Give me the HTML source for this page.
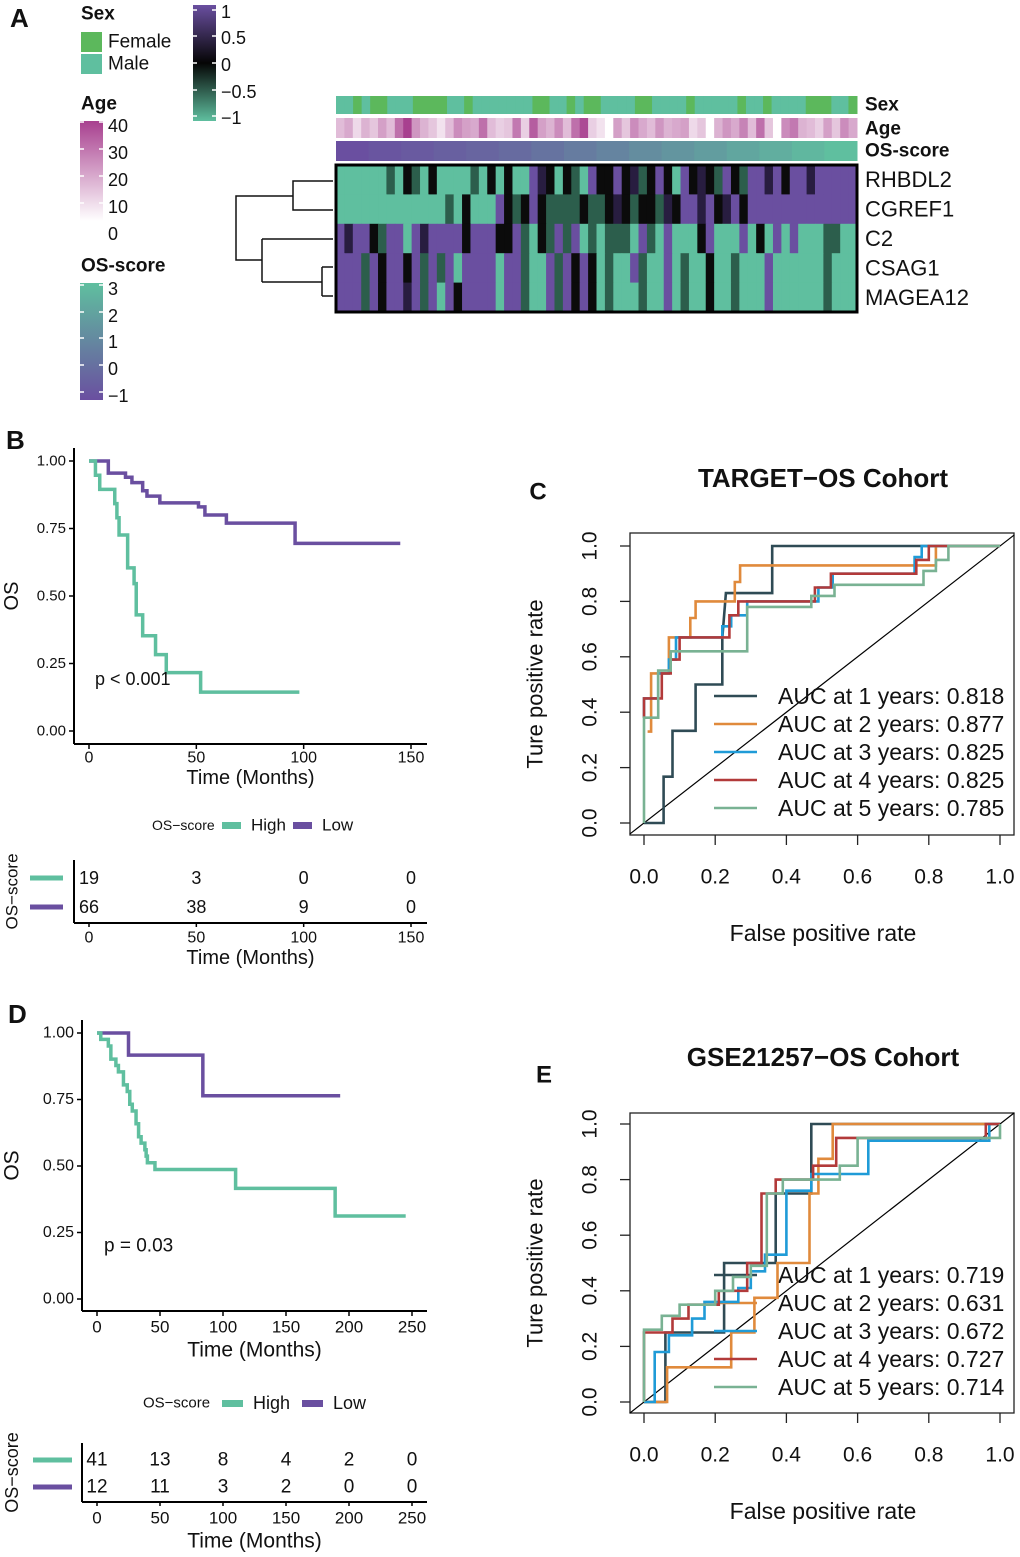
<!DOCTYPE html>
<html><head><meta charset="utf-8"><style>
html,body{margin:0;padding:0;background:#fff}
svg{display:block;font-family:"Liberation Sans",Arial,sans-serif}
</style></head><body>
<svg id="fig" width="1020" height="1557" viewBox="0 0 1020 1557" xmlns="http://www.w3.org/2000/svg">
<defs>
<linearGradient id="gHeat" x1="0" y1="1" x2="0" y2="0"><stop offset="0" stop-color="#5fbf9f"/><stop offset="0.5" stop-color="#050505"/><stop offset="1" stop-color="#6a4fa0"/></linearGradient>
<linearGradient id="gAge" x1="0" y1="1" x2="0" y2="0"><stop offset="0" stop-color="#ffffff"/><stop offset="1" stop-color="#a8408f"/></linearGradient>
<linearGradient id="gOS" x1="0" y1="1" x2="0" y2="0"><stop offset="0" stop-color="#6a4fa0"/><stop offset="1" stop-color="#5fbf9f"/></linearGradient>
</defs>
<g id="root"></g>
</svg>
<script>
// ---------- data ----------
const geneNames = ["RHBDL2","CGREF1","C2","CSAG1","MAGEA12"];
const heatRows = [
"ggggggdgkdgkggggdgkgkggPpkgkdgPkkPkpdkPkgPkpkdPkdPPpPkPPpPPPPP",
"gggggggggggggdgkgggPkdkPkddddkddkpkdkkdpkPPpPkpPkPPPPPPPPPPPPP",
"PpPPkdPPgPpPPPPkPPPkkPdgkdPdPgdgdddgPdgPgggkPgggPgkgPgPgggddgg",
"PPPdPkPPkPdPdPgPPPPgPPdggPdPkPkgdggPdggPgdggkggdgggPggggggdggg",
"PPPdPkPPpPdPgPkPPPPgPPdggPdPkPkgdgggdggPgdggkggdgggPggggggdggg"];
const sexCodes = "MMFMFFMMMFFFFMMFMMMMMMMFFMMFMFFMMMMFFMMMMFMMMMMFMMFMMMMFFFMMF";
const ageVals = [14,18,8,16,12,20,14,30,40,22,16,12,6,14,24,20,18,30,14,10,12,28,10,34,20,16,24,14,30,38,10,6,0,20,12,24,18,14,22,16,18,20,8,12,0,16,22,18,26,14,30,12,0,24,28,16,14,10,20,12,24,18];
const osScores = [-1,-0.8,-0.6,-0.4,-0.2,0,0.3,0.6,0.9,1.2,1.5,1.8,2.1,2.4,2.7,3];
const heatColor = {g:"#5fbf9f",d:"#2c5e4c",k:"#0b0b0b",p:"#281d40",P:"#6a4fa0"};

const kmB_timeHigh=[0,3,5,12,13,14,18,21,22,25,31,36,52];
const kmB_survHigh=[1,0.947,0.895,0.842,0.79,0.726,0.604,0.546,0.43,0.353,0.283,0.216,0.144];
const kmB_endHigh=98;
const kmB_timeLow=[0,9,17,20,25,27,33,51,54,64,96];
const kmB_survLow=[1,0.955,0.94,0.92,0.89,0.87,0.845,0.83,0.80,0.77,0.695];
const kmB_endLow=145;
const kmB_ticks=[0,50,100,150];
const kmB_riskHigh=[19,3,0,0];
const kmB_riskLow=[66,38,9,0];

const kmD_timeHigh=[0,3,9,11,15,17,21,24,26,28,31,33,35,38,39,40,46,110,189];
const kmD_survHigh=[1,0.976,0.951,0.902,0.878,0.854,0.805,0.78,0.732,0.707,0.659,0.61,0.586,0.561,0.537,0.512,0.487,0.416,0.312];
const kmD_endHigh=245;
const kmD_timeLow=[0,25,84];
const kmD_survLow=[1,0.917,0.764];
const kmD_endLow=193;
const kmD_ticks=[0,50,100,150,200,250];
const kmD_riskHigh=[41,13,8,4,2,0];
const kmD_riskLow=[12,11,3,2,0,0];

const yTicksKM=[0,0.25,0.5,0.75,1];
const rocTicks=[0,0.2,0.4,0.6,0.8,1];
const rocColors=["#2f4b55","#e08a3c","#1f9bd7","#b23a3a","#79b293"];
const rocC_labels=["AUC at 1 years: 0.818","AUC at 2 years: 0.877","AUC at 3 years: 0.825","AUC at 4 years: 0.825","AUC at 5 years: 0.785"];
const rocC_fpr=[
[0,0.055,0.055,0.08,0.08,0.145,0.145,0.22,0.22,0.23,0.23,0.36,0.36,1],
[0.01,0.02,0.02,0.07,0.07,0.13,0.13,0.145,0.145,0.255,0.255,0.27,0.27,0.82,0.82,1],
[0,0,0.04,0.04,0.07,0.07,0.09,0.09,0.22,0.22,0.245,0.245,0.29,0.29,0.49,0.49,0.53,0.53,0.76,0.76,0.78,0.78,1],
[0,0,0.05,0.05,0.075,0.075,0.1,0.1,0.24,0.24,0.265,0.265,0.48,0.48,0.525,0.525,0.765,0.765,0.8,0.8,1],
[0,0,0.04,0.04,0.075,0.075,0.29,0.29,0.47,0.47,0.535,0.535,0.785,0.785,0.82,0.82,0.855,0.855,1]];
const rocC_tpr=[
[0,0,0.167,0.167,0.333,0.333,0.5,0.5,0.667,0.83,0.83,0.83,1,1],
[0.33,0.33,0.54,0.54,0.67,0.67,0.74,0.74,0.8,0.8,0.87,0.87,0.93,0.93,1,1],
[0.38,0.45,0.45,0.54,0.54,0.59,0.59,0.67,0.67,0.71,0.71,0.75,0.75,0.8,0.8,0.85,0.85,0.9,0.9,0.96,0.96,1,1],
[0.38,0.45,0.45,0.54,0.54,0.59,0.59,0.67,0.67,0.75,0.75,0.8,0.8,0.85,0.85,0.9,0.9,0.95,0.95,1,1],
[0,0.38,0.38,0.55,0.55,0.62,0.62,0.78,0.78,0.82,0.82,0.86,0.86,0.91,0.91,0.95,0.95,1,1]];
const rocE_labels=["AUC at 1 years: 0.719","AUC at 2 years: 0.631","AUC at 3 years: 0.672","AUC at 4 years: 0.727","AUC at 5 years: 0.714"];
const rocE_fpr=[
[0,0.06,0.06,0.225,0.225,0.37,0.37,0.47,0.47,1],
[0,0.065,0.065,0.245,0.245,0.31,0.31,0.375,0.375,0.465,0.465,0.49,0.49,0.53,0.53,1],
[0,0.03,0.03,0.07,0.07,0.135,0.135,0.17,0.17,0.265,0.265,0.3,0.3,0.34,0.34,0.4,0.4,0.47,0.47,0.63,0.63,0.97,0.97,1],
[0,0,0.08,0.08,0.125,0.125,0.21,0.21,0.29,0.29,0.33,0.33,0.37,0.37,0.475,0.475,0.54,0.54,0.96,0.96,1],
[0,0,0.05,0.05,0.1,0.1,0.2,0.2,0.25,0.25,0.3,0.3,0.345,0.345,0.39,0.39,0.55,0.55,0.6,0.6,1,1]];
const rocE_tpr=[
[0,0,0.25,0.25,0.5,0.5,0.75,0.75,1,1],
[0,0,0.125,0.125,0.25,0.25,0.375,0.375,0.5,0.5,0.75,0.75,0.875,0.875,1,1],
[0,0,0.18,0.18,0.24,0.24,0.3,0.3,0.36,0.36,0.41,0.41,0.47,0.47,0.53,0.53,0.76,0.76,0.82,0.82,0.94,0.94,1,1],
[0,0.25,0.25,0.3,0.3,0.35,0.35,0.4,0.4,0.5,0.5,0.75,0.75,0.8,0.8,0.85,0.85,0.95,0.95,1,1],
[0,0.26,0.26,0.31,0.31,0.35,0.35,0.4,0.4,0.45,0.45,0.49,0.49,0.75,0.75,0.8,0.8,0.85,0.85,0.95,0.95,1]];

// ---------- helpers ----------
const NS="http://www.w3.org/2000/svg";
const root=document.getElementById('root');
function mk(tag,attrs,parent){const e=document.createElementNS(NS,tag);for(const k in attrs)e.setAttribute(k,attrs[k]);(parent||root).appendChild(e);return e;}
function txt(x,y,s,size,opts,parent){opts=opts||{};const e=mk('text',{x:x,y:y,'font-size':size,fill:opts.fill||'#111','text-anchor':opts.anchor||'start','dominant-baseline':'central','font-weight':opts.bold?'bold':'normal'},parent);if(opts.rot)e.setAttribute('transform','rotate(-90 '+x+' '+y+')');e.textContent=s;return e;}
function line(x1,y1,x2,y2,stroke,w,parent){return mk('line',{x1:x1,y1:y1,x2:x2,y2:y2,stroke:stroke,'stroke-width':w},parent);}

// ---------- Panel A ----------
let t;
t=txt(10,18,"A",26,{bold:true});


const legA=mk('g',{});


txt(81,14,"Sex",19,{bold:true},legA);
let sw=mk('rect',{x:81,y:32,width:21,height:20,fill:'#5cb85c'},legA);


sw=mk('rect',{x:81,y:54,width:21,height:20,fill:'#5fbf9f'},legA);


txt(108,42,"Female",19,{},legA);txt(108,64,"Male",19,{},legA);
txt(81,104,"Age",19,{bold:true},legA);
mk('rect',{x:80,y:121,width:23,height:100,fill:'url(#gAge)'},legA);
[["40",126],["30",153],["20",180],["10",207],["0",234]].forEach(a=>{txt(108,a[1],a[0],18,{},legA);if(a[0]!="0"){line(80,a[1]-4,84,a[1]-4,'#fff',1.5,legA);line(99,a[1]-4,103,a[1]-4,'#fff',1.5,legA);}});
txt(81,266,"OS-score",19,{bold:true},legA);
mk('rect',{x:80,y:283,width:23,height:117,fill:'url(#gOS)'},legA);
[["3",289],["2",316],["1",342],["0",369],["\u22121",396]].forEach(a=>{txt(108,a[1],a[0],18,{},legA);line(80,a[1]-4,84,a[1]-4,'#fff',1.5,legA);line(99,a[1]-4,103,a[1]-4,'#fff',1.5,legA);});
mk('rect',{x:193,y:5,width:23,height:116,fill:'url(#gHeat)'},legA);
[["1",12],["0.5",38],["0",65],["\u22120.5",92],["\u22121",118]].forEach(a=>{txt(221,a[1],a[0],18,{},legA);line(193,a[1]-2,197,a[1]-2,'#fff',1.5,legA);line(212,a[1]-2,216,a[1]-2,'#fff',1.5,legA);});

const hmX0=336,hmX1=857;
const annG=mk('g',{});


const nSex=sexCodes.length, wSex=(hmX1-hmX0)/nSex;
for(let i=0;i<nSex;i++){const r=mk('rect',{x:hmX0+i*wSex,y:96,width:wSex+0.5,height:18,fill:sexCodes[i]=='F'?'#5cb85c':'#5fbf9f'},annG);

}
const nAge=ageVals.length,wAge=(hmX1-hmX0)/nAge;
for(let i=0;i<nAge;i++){const f=ageVals[i]/40;const c='rgb('+Math.round(255-(255-168)*f)+','+Math.round(255-(255-64)*f)+','+Math.round(255-(255-143)*f)+')';
const r=mk('rect',{x:hmX0+i*wAge,y:118,width:wAge+0.5,height:20,fill:c},annG);

}
const nOS=osScores.length,wOS=(hmX1-hmX0)/nOS;
function lerp(a,b,f){return Math.round(a+(b-a)*f);}
for(let i=0;i<nOS;i++){const f=(osScores[i]+1)/4;const c='rgb('+lerp(106,95,f)+','+lerp(79,191,f)+','+lerp(160,159,f)+')';
const r=mk('rect',{x:hmX0+i*wOS,y:141,width:wOS+0.5,height:20,fill:c},annG);

}
txt(865,105,"Sex",19,{bold:true});txt(865,129,"Age",19,{bold:true});txt(865,151,"OS-score",19,{bold:true});

const hmG=mk('g',{});


const hmY0=165,rowH=29.4;
heatRows.forEach((row,ri)=>{const w=(hmX1-hmX0)/row.length;for(let i=0;i<row.length;i++){const r=mk('rect',{x:hmX0+i*w,y:hmY0+ri*rowH,width:w+0.5,height:rowH+0.5,fill:heatColor[row[i]]},hmG);

}
const gl=txt(865,hmY0+ri*rowH+rowH/2,geneNames[ri],22,{});

});
mk('rect',{x:hmX0,y:hmY0,width:hmX1-hmX0,height:rowH*5,fill:'none',stroke:'#000','stroke-width':3},hmG);
const dg=mk('path',{d:"M333 181H293V210H333M293 196H236V260H262M262 239V282M333 239H262M262 282H322M322 267V296M333 267H322M333 296H322",fill:'none',stroke:'#111','stroke-width':1.5});



// ---------- KM plots ----------
function km(cfg){
 const g=mk('g',{});
 
 
 const sx=v=>cfg.x0+(v/cfg.xmax)*(cfg.x1-cfg.x0);
 const Y=v=>cfg.yb-(v)*(cfg.yb-cfg.yt);
 line(cfg.ax,cfg.top,cfg.ax,cfg.axY,'#000',2,g);
 line(cfg.ax,cfg.axY,cfg.right,cfg.axY,'#000',2,g);
 yTicksKM.forEach(v=>{line(cfg.ax-5,Y(v),cfg.ax,Y(v),'#000',1.5,g);txt(cfg.ax-8,Y(v),v.toFixed(2),cfg.fs,{anchor:'end'},g);});
 cfg.ticks.forEach(v=>{line(sx(v),cfg.axY,sx(v),cfg.axY+5,'#000',1.5,g);txt(sx(v),cfg.tickY,String(v),cfg.fs+1,{anchor:'middle'},g);});
 txt((cfg.ax+cfg.right)/2,cfg.titleY,"Time (Months)",cfg.fs+5,{anchor:'middle'},g);
 txt(12,(cfg.top+cfg.axY)/2,"OS",cfg.fs+5,{anchor:'middle',rot:true},g);
 function step(ts,ss,end,col,nm){let d='M'+sx(ts[0])+' '+Y(ss[0]);for(let i=1;i<ts.length;i++){d+='H'+sx(ts[i])+'V'+Y(ss[i]);}d+='H'+sx(end);
  const p=mk('path',{d:d,fill:'none',stroke:col,'stroke-width':3.5},g);
  
  }
 step(cfg.tl,cfg.sl,cfg.el,'#6a4fa0','km-curve-low');
 step(cfg.th,cfg.sh,cfg.eh,'#5fbf9f','km-curve-high');
 txt(cfg.px,cfg.py,cfg.pText,cfg.fs+3,{},g);
 const lg=mk('g',{},g);
 
 
 txt(cfg.legX,cfg.legY,"OS\u2212score",cfg.fs-1,{},lg);
 mk('rect',{x:cfg.legX+cfg.l1,y:cfg.legY-3,width:cfg.lw,height:7,fill:'#5fbf9f'},lg);
 txt(cfg.legX+cfg.l1+cfg.lw+10,cfg.legY,"High",cfg.fs+2,{},lg);
 mk('rect',{x:cfg.legX+cfg.l2,y:cfg.legY-3,width:cfg.lw,height:7,fill:'#6a4fa0'},lg);
 txt(cfg.legX+cfg.l2+cfg.lw+10,cfg.legY,"Low",cfg.fs+2,{},lg);
 const rt=mk('g',{},g);
 
 
 line(cfg.ax,cfg.rTop,cfg.ax,cfg.rAx,'#000',2,rt);
 line(cfg.ax,cfg.rAx,cfg.right,cfg.rAx,'#000',2,rt);
 cfg.ticks.forEach((v,i)=>{line(sx(v),cfg.rAx,sx(v),cfg.rAx+4,'#000',1.5,rt);txt(sx(v),cfg.rTickY,String(v),cfg.fs+1,{anchor:'middle'},rt);
  txt(sx(v),cfg.r1,String(cfg.rh[i]),cfg.fs+3,{anchor:'middle'},rt);txt(sx(v),cfg.r2,String(cfg.rl[i]),cfg.fs+3,{anchor:'middle'},rt);});
 line(cfg.lx0,cfg.r1,cfg.lx1,cfg.r1,'#5fbf9f',5,rt);line(cfg.lx0,cfg.r2,cfg.lx1,cfg.r2,'#6a4fa0',5,rt);
 txt(12,(cfg.rTop+cfg.rAx)/2,"OS\u2212score",cfg.fs+2,{anchor:'middle',rot:true},rt);
 txt((cfg.ax+cfg.right)/2,cfg.rTitleY,"Time (Months)",cfg.fs+5,{anchor:'middle'},rt);
}
t=txt(6,440,"B",26,{bold:true});


km({name:'km-plot-target',x0:89,x1:411,xmax:150,yt:461,yb:731,ax:74,top:448,axY:744,right:427,fs:15,ticks:kmB_ticks,tickY:758,titleY:778,
 th:kmB_timeHigh,sh:kmB_survHigh,eh:kmB_endHigh,tl:kmB_timeLow,sl:kmB_survLow,el:kmB_endLow,px:95,py:679,pText:"p < 0.001",
 legX:152,legY:825,l1:70,l2:141,lw:19,rTop:860,rAx:923,r1:878,r2:907,rTickY:938,rTitleY:958,rh:kmB_riskHigh,rl:kmB_riskLow,lx0:30,lx1:63});
t=txt(8,1014,"D",26,{bold:true});


km({name:'km-plot-gse',x0:97,x1:412,xmax:250,yt:1033,yb:1299,ax:82,top:1020,axY:1311,right:427,fs:16,ticks:kmD_ticks,tickY:1327,titleY:1350,
 th:kmD_timeHigh,sh:kmD_survHigh,eh:kmD_endHigh,tl:kmD_timeLow,sl:kmD_survLow,el:kmD_endLow,px:104,py:1246,pText:"p = 0.03",
 legX:143,legY:1403,l1:79,l2:159,lw:21,rTop:1443,rAx:1502,r1:1460,r2:1487,rTickY:1518,rTitleY:1541,rh:kmD_riskHigh,rl:kmD_riskLow,lx0:33,lx1:72});

// ---------- ROC ----------
function roc(cfg){
 const g=mk('g',{});
 
 
 const X=v=>644+v*(1000-644), Y=v=>cfg.y0-v*(cfg.y0-cfg.y1);
 mk('rect',{x:630,y:cfg.bt,width:384,height:cfg.bb-cfg.bt,fill:'none',stroke:'#222','stroke-width':1.3},g);
 rocTicks.forEach(v=>{line(X(v),cfg.bb,X(v),cfg.bb+10,'#222',1.3,g);txt(X(v),cfg.bb+42,v.toFixed(1),21,{anchor:'middle'},g);
  line(620,Y(v),630,Y(v),'#222',1.3,g);txt(590,Y(v),v.toFixed(1),21,{anchor:'middle',rot:true},g);});
 line(X(-0.04),Y(-0.04),X(1.04),Y(1.04),'#000',1.2,g);
 txt(823,cfg.titleY,cfg.title,26,{anchor:'middle',bold:true},g);
 txt(535,(cfg.bt+cfg.bb)/2,"Ture positive rate",22,{anchor:'middle',rot:true},g);
 txt(823,cfg.bb+98,"False positive rate",23,{anchor:'middle'},g);
 for(let k=0;k<5;k++){let d='';cfg.fpr[k].forEach((f,i)=>{d+=(i?'L':'M')+X(f).toFixed(1)+' '+Y(cfg.tpr[k][i]).toFixed(1);});
  const p=mk('path',{d:d,fill:'none',stroke:rocColors[k],'stroke-width':2.6},g);
  
  
  const ly=cfg.legY+k*28;
  const e=mk('g',{},g);
  
  
  line(714,ly,757,ly,rocColors[k],2.6,e);txt(778,ly,cfg.labels[k],23,{},e);}
}
t=txt(538,492,"C",24,{bold:true,anchor:'middle'});


roc({name:'roc-target',bt:533,bb:835,y0:823,y1:546,title:"TARGET\u2212OS Cohort",titleY:478,legY:696,fpr:rocC_fpr,tpr:rocC_tpr,labels:rocC_labels});
t=txt(544,1075,"E",24,{bold:true,anchor:'middle'});


roc({name:'roc-gse',bt:1113,bb:1413,y0:1402,y1:1124,title:"GSE21257\u2212OS Cohort",titleY:1057,legY:1275,fpr:rocE_fpr,tpr:rocE_tpr,labels:rocE_labels});
</script>
</body></html>
